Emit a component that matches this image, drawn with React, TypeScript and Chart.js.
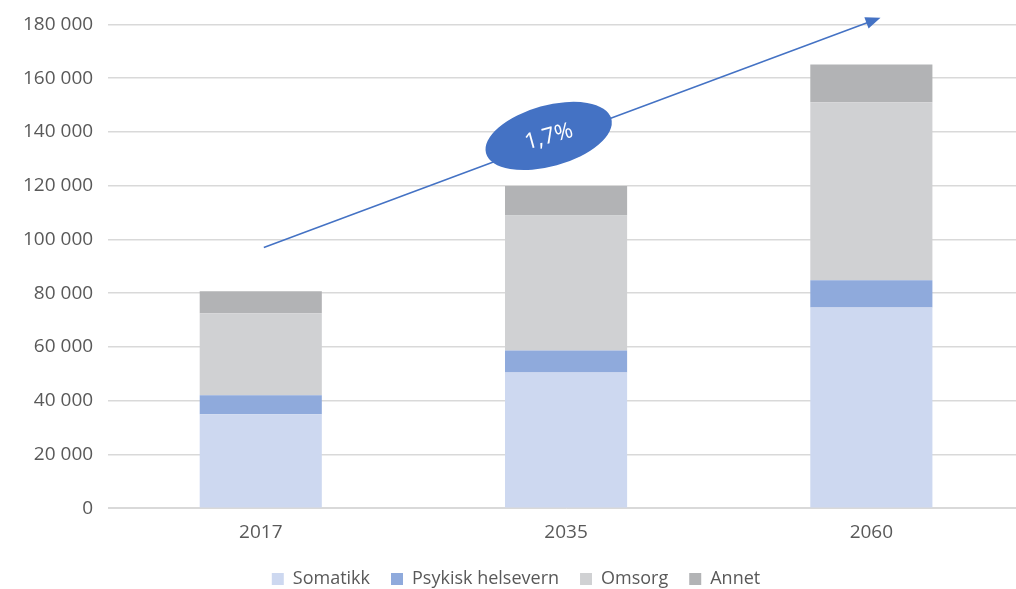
import React, { useEffect, useRef } from "react";
import { Chart, registerables } from "chart.js";

Chart.register(...registerables);

const categories = ["2017", "2035", "2060"];
const somatikk = [35000, 50500, 74700];
const psykisk = [7000, 8200, 10100];
const omsorg = [30500, 50200, 66200];
const annet = [8200, 11000, 14100];
const yTicks = [0, 20000, 40000, 60000, 80000, 100000, 120000, 140000, 160000, 180000];
const growthLabel = "1,7%";
// arrow in data coordinates: [category index, value]
const arrowFrom = [0.01, 97000];
const arrowTo = [2.03, 182500];
const ellipseAt = [0.943, 138500];

const FONT = "'Open Sans', 'DejaVu Sans', sans-serif";
const CANVAS_W = 1030;
const CANVAS_H = 591;

const fmt = (v: number) => String(v).replace(/\B(?=(\d{3})+(?!\d))/g, " ");

const arrowPlugin = {
  id: "growthArrow",
  afterDatasetsDraw(chart: any) {
    const { ctx, scales } = chart;
    const xs = scales.x;
    const ys = scales.y;
    const x1 = xs.getPixelForValue(arrowFrom[0]);
    const y1 = ys.getPixelForValue(arrowFrom[1]);
    const x2 = xs.getPixelForValue(arrowTo[0]);
    const y2 = ys.getPixelForValue(arrowTo[1]);
    const ang = Math.atan2(y2 - y1, x2 - x1);
    ctx.save();
    ctx.strokeStyle = "#4472C4";
    ctx.fillStyle = "#4472C4";
    ctx.lineWidth = 1.5;
    ctx.beginPath();
    ctx.moveTo(x1, y1);
    ctx.lineTo(x2 - 10 * Math.cos(ang), y2 - 10 * Math.sin(ang));
    ctx.stroke();
    ctx.beginPath();
    ctx.moveTo(x2, y2);
    ctx.lineTo(x2 - 15 * Math.cos(ang) + 6 * Math.sin(ang), y2 - 15 * Math.sin(ang) - 6 * Math.cos(ang));
    ctx.lineTo(x2 - 15 * Math.cos(ang) - 6 * Math.sin(ang), y2 - 15 * Math.sin(ang) + 6 * Math.cos(ang));
    ctx.closePath();
    ctx.fill();
    const ex = xs.getPixelForValue(ellipseAt[0]);
    const ey = ys.getPixelForValue(ellipseAt[1]);
    ctx.translate(ex, ey);
    ctx.rotate(-0.27);
    ctx.beginPath();
    ctx.ellipse(0, 0, 65, 30.5, 0, 0, Math.PI * 2);
    ctx.fill();
    ctx.fillStyle = "#FFFFFF";
    ctx.font = `22px ${FONT}`;
    ctx.textAlign = "center";
    ctx.textBaseline = "middle";
    ctx.fillText(growthLabel, 0, 1);
    ctx.restore();
  },
};

export default function App() {
  const ref = useRef<HTMLCanvasElement>(null);
  useEffect(() => {
    if (!ref.current) return;
    const chart = new Chart(ref.current, {
      type: "bar",
      data: {
        labels: categories,
        datasets: [
          { label: "Somatikk", data: somatikk, backgroundColor: "#CDD8F0" },
          { label: "Psykisk helsevern", data: psykisk, backgroundColor: "#8FAADC" },
          { label: "Omsorg", data: omsorg, backgroundColor: "#D0D1D3" },
          { label: "Annet", data: annet, backgroundColor: "#B2B3B5" },
        ],
      },
      options: {
        animation: false,
        responsive: false,
        maintainAspectRatio: false,
        layout: { padding: { top: 4, right: 6, left: 8, bottom: -9 } },
        datasets: { bar: { categoryPercentage: 1, barPercentage: 0.4 } } as any,
        scales: {
          x: {
            stacked: true,
            grid: { display: false },
            border: { display: true, color: "#D9D9D9", width: 1 },
            ticks: { color: "#595959", font: { family: FONT, size: 19 }, padding: 5 },
          },
          y: {
            stacked: true,
            min: 0,
            max: 180000,
            afterBuildTicks: (axis: any) => {
              axis.ticks = yTicks.map((v) => ({ value: v }));
            },
            grid: { color: "#D9D9D9", lineWidth: 1.5, drawTicks: false },
            border: { display: false },
            ticks: {
              color: "#595959",
              font: { family: FONT, size: 19 },
              padding: 15,
              callback: (v: any) => fmt(Number(v)),
            },
          },
        },
        plugins: {
          legend: {
            position: "bottom",
            labels: {
              color: "#595959",
              font: { family: FONT, size: 18 },
              boxWidth: 12,
              boxHeight: 12,
              padding: 21,
            },
          },
          tooltip: { enabled: false },
        },
      },
      plugins: [arrowPlugin],
    });
    return () => chart.destroy();
  }, []);
  return (
    <div style={{ position: "absolute", left: 0, top: 0, width: 1016, height: 589, overflow: "hidden" }}>
      <canvas
        ref={ref}
        width={CANVAS_W}
        height={CANVAS_H}
        style={{ position: "absolute", left: 0, top: -2, width: CANVAS_W, height: CANVAS_H }}
      />
    </div>
  );
}
